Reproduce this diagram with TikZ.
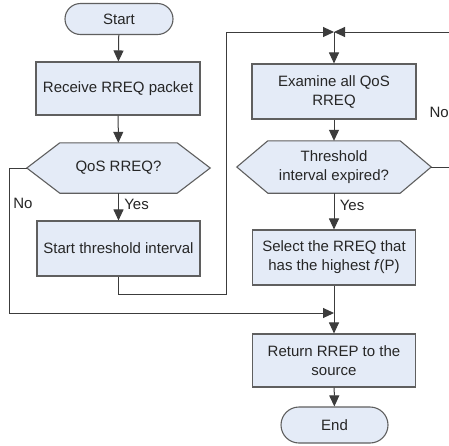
\documentclass[tikz,border=0pt]{standalone}
\usepackage{fontspec}
\setmainfont{Liberation Sans}
\usetikzlibrary{shapes.misc,arrows.meta,backgrounds}
\definecolor{boxfill}{RGB}{228,235,247}
\definecolor{boxline}{RGB}{95,95,95}
\definecolor{conn}{RGB}{60,60,60}
\begin{document}
\begin{tikzpicture}[x=1pt,y=-1pt,
  txt/.style={font=\fontsize{15}{19}\selectfont, align=center, text=black!85},
  procbox/.style={txt, draw=boxline, line width=1.1pt, fill=boxfill, inner sep=0pt},
  termbox/.style={txt, rounded rectangle, draw=boxline, line width=1.1pt, fill=boxfill, inner sep=0pt},
  hexbox/.style={txt, inner sep=0pt},
  hexline/.style={draw=boxline, line width=1.1pt, fill=boxfill},
  link/.style={draw=conn, line width=1pt},
  arr/.style={link, -{Triangle[length=11pt,width=10pt]}},
  lbl/.style={font=\fontsize{15}{19}\selectfont, text=black!85}
]
\useasboundingbox (0,0) rectangle (449,445);

% left column
\node[termbox, minimum width=108pt, minimum height=31pt] (start) at (119,19) {Start};
\node[procbox, minimum width=164pt, minimum height=53pt] (recv) at (118,88.5) {Receive RREQ packet};
\node[hexbox, minimum width=183pt, minimum height=50pt] (qos) at (118.5,168) {QoS RREQ?};
\node[procbox, minimum width=163pt, minimum height=55pt] (sti) at (118.5,248.5) {Start threshold interval};

% right column
\node[procbox, minimum width=164pt, minimum height=55pt] (exam) at (334,91.5) {Examine all QoS\\RREQ};
\node[hexbox, minimum width=194pt, minimum height=52pt] (thr) at (334,167) {Threshold\\interval expired?};
\node[procbox, minimum width=163pt, minimum height=55pt] (sel) at (334,257.5) {Select the RREQ that\\has the highest \textit{f}(P)};
\node[procbox, minimum width=163pt, minimum height=53pt] (ret) at (334,360.5) {Return RREP to the\\source};
\node[termbox, minimum width=107pt, minimum height=36pt] (end) at (334.5,425) {End};

\begin{scope}[on background layer]
\fill[white] (0,0) rectangle (449,445);
\draw[hexline] (qos.west) -- ([xshift=33pt]qos.north west) -- ([xshift=-33pt]qos.north east) -- (qos.east)
  -- ([xshift=-33pt]qos.south east) -- ([xshift=33pt]qos.south west) -- cycle;
\draw[hexline] (thr.west) -- ([xshift=31pt]thr.north west) -- ([xshift=-31pt]thr.north east) -- (thr.east)
  -- ([xshift=-31pt]thr.south east) -- ([xshift=31pt]thr.south west) -- cycle;
\end{scope}

% junctions and edge points
\coordinate (jtop) at (334,32);
\coordinate (jbot) at (334,313);
\coordinate (redgetop) at (449,32);
\coordinate (redgemid) at (449,167);

% connectors
\draw[arr] (start) -- (recv);
\draw[arr] (recv) -- (qos);
\draw[arr] (qos) -- node[lbl, right, pos=0.42, xshift=2pt] {Yes} (sti);
\draw[arr] (qos.west) -- (9,168) -- (9,313) -- (jbot);
\node[lbl] (nol) at (23,203) {No};
\draw[arr] (sti.south) -- (118.5,294) -- (226,294) -- (226,32) -- (jtop);
\draw[arr] (redgetop) -- (jtop);
\draw[arr] (jtop) -- (exam);
\draw[arr] (exam) -- (thr);
\draw[link] (thr.east) -- (redgemid);
\node[lbl, anchor=west] (nor) at (426,112) {No};
\draw[arr] (thr) -- node[lbl, right, pos=0.35, xshift=2pt] {Yes} (sel);
\draw[arr] (sel) -- (ret);
\draw[arr] (ret) -- (end);
\end{tikzpicture}
\end{document}
